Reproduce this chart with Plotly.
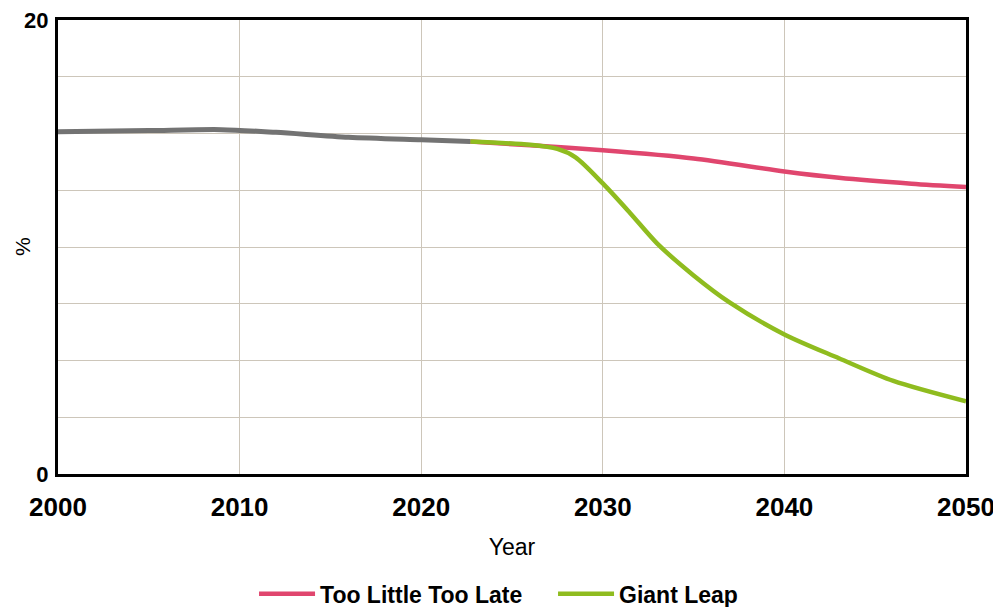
import plotly.graph_objects as go

# Data
hist_years = [2000, 2005, 2009, 2012, 2016, 2020, 2022.7]
hist_vals = [15.08, 15.13, 15.17, 15.05, 14.83, 14.72, 14.65]

tltl_years = [2022.7, 2026, 2030, 2035, 2040, 2043, 2047, 2050]
tltl_vals = [14.65, 14.48, 14.26, 13.9, 13.33, 13.05, 12.79, 12.64]

gl_years = [2022.7, 2026, 2027.5, 2028.5, 2030, 2031.5, 2033, 2035, 2037, 2040, 2043, 2046, 2050]
gl_vals = [14.65, 14.5, 14.32, 13.95, 12.8, 11.5, 10.15, 8.75, 7.55, 6.15, 5.1, 4.1, 3.2]

x_ticks = [2000, 2010, 2020, 2030, 2040, 2050]
y_ticks = [0, 2.5, 5, 7.5, 10, 12.5, 15, 17.5, 20]
y_text = ["0", "", "", "", "", "", "", "", "20"]

RED = "#e0466e"
GREEN = "#8fbc1f"
GRAY = "#737373"
GRID = "#cdc6ba"
FONT = "Liberation Sans"

fig = go.Figure()
fig.add_trace(go.Scatter(x=tltl_years, y=tltl_vals, mode="lines", name="Too Little Too Late",
                         line=dict(color=RED, width=4.5, shape="spline", smoothing=0.8)))
fig.add_trace(go.Scatter(x=gl_years, y=gl_vals, mode="lines", name="Giant Leap",
                         line=dict(color=GREEN, width=4.5, shape="spline", smoothing=0.8)))
fig.add_trace(go.Scatter(x=hist_years, y=hist_vals, mode="lines", name="Historical", showlegend=False,
                         line=dict(color=GRAY, width=5, shape="spline", smoothing=0.8)))

fig.add_annotation(text="%", textangle=-90, xref="paper", yref="paper", x=0, y=0.5,
                   xanchor="center", yanchor="middle", xshift=-36, showarrow=False,
                   font=dict(size=21, family=FONT, color="black"))

fig.update_layout(
    width=993, height=599,
    margin=dict(l=50, r=35, t=12, b=133, autoexpand=False),
    paper_bgcolor="white", plot_bgcolor="white",
    font=dict(family=FONT, color="black"),
    showlegend=True,
    legend=dict(orientation="h", x=0.2159, xanchor="left", y=-0.264, yanchor="middle",
                font=dict(size=23, weight="bold", family=FONT), itemwidth=56,
                entrywidth=228, entrywidthmode="pixels",
                traceorder="normal"),
    xaxis=dict(range=[2000, 2050], tickvals=x_ticks, showgrid=True, gridcolor=GRID, gridwidth=1,
               showline=True, linecolor="black", linewidth=3, mirror=True, ticks="",
               tickfont=dict(size=26, weight="bold", family=FONT), ticklabelstandoff=8,
               ticklabeloverflow="allow",
               title=dict(text="Year", font=dict(size=23, family=FONT), standoff=18),
               zeroline=False, automargin=False),
    yaxis=dict(range=[0, 20], tickvals=y_ticks, ticktext=y_text, showgrid=True, gridcolor=GRID,
               gridwidth=1, showline=True, linecolor="black", linewidth=3, mirror=True, ticks="",
               tickfont=dict(size=22, weight="bold", family=FONT), ticklabelstandoff=2,
               ticklabeloverflow="allow",
               zeroline=False, automargin=False),
)

fig.write_html("out.html")
